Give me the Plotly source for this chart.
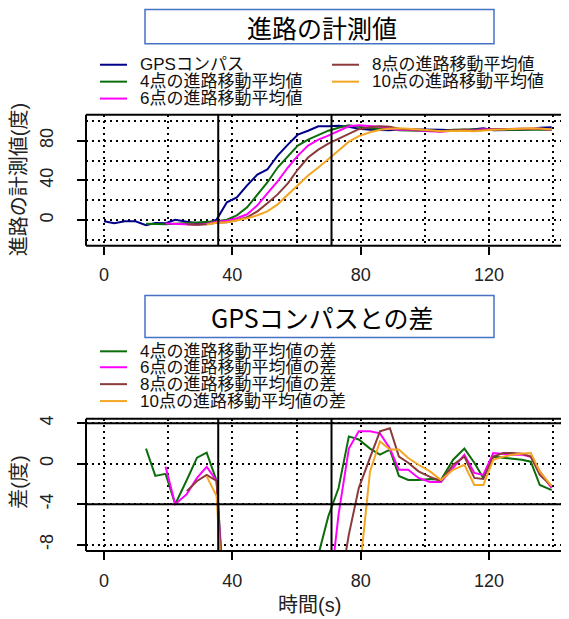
import plotly.graph_objects as go

# The page body adds an 8px margin, so the figure is 8px smaller and all
# pixel positions below are given in window coordinates and shifted.
OFF = 8
W, H = 569 - OFF, 619 - OFF


def px(x):
    return (x - OFF) / W


def py(y):
    return 1 - (y - OFF) / H


# ---------------- data ----------------
time = [0, 3.2, 6.5, 9.8, 13.1, 16.0, 19.2, 22.2, 25.8, 29.0, 32.0, 35.1, 38.3, 41.4, 44.6,
        47.8, 50.9, 54.1, 57.3, 60.4, 63.6, 66.8, 69.9, 73.1, 76.3, 79.4, 82.9, 86.0, 89.1,
        91.9, 94.8, 98.0, 101.6, 105.0, 108.8, 112.3, 115.4, 118.2, 121.3, 124.4, 127.3,
        130.2, 133.0, 135.8, 139.5]

gps = [-1.0, -3.0, -1.0, -1.0, -5.0, -2.8, -3.0, 0.5, -1.4, -3.1, -3.1, 0.7, 18, 23, 35,
       46, 51, 65, 76, 86, 90, 94.5, 94.5, 95, 94, 92, 91, 91, 90.5,
       91.5, 91.5, 91.5, 91, 91, 90.5, 90, 91.5, 92.5, 90.5, 90.5, 91,
       91, 91.5, 93, 93.5]

ma4 = [None] * 4 + [-3.5, -4.0, -4.0, -3.5, -3.0, -2.5, -2.0, -1.0, 0.5, 5, 13, 26, 38, 53,
                    64, 75, 81, 85.5, 90, 93, 95.5, 94, 92.5, 92, 92, 90.5, 90, 90, 90,
                    89.5, 91, 91.5, 91.5, 91, 91, 91, 91.5, 91.5, 91.5, 91, 91]

ma6 = [None] * 6 + [-3.3, -3.5, -4.4, -4.5, -3.4, -1.5, -0.5, 2, 6, 15, 27, 39, 53, 65, 75,
                    81, 85, 89.5, 94.5, 95.5, 94.5, 94, 92, 91, 91, 90, 89.5, 89, 90, 91,
                    90.5, 91.5, 91.5, 91.5, 92, 92, 92, 92, 91]

ma8 = [None] * 8 + [-4.0, -4.5, -4.0, -2.5, -2, 0, 3, 9, 17, 26, 37, 51, 63, 71, 77, 82,
                    87, 91.5, 93.5, 94.5, 94, 92, 91.5, 91, 90, 89.5, 90.5, 91, 90, 91,
                    91.5, 91.5, 92, 92, 92, 92, 91.3]

ma10 = [None] * 10 + [-4.3, -2.5, -2, 0, 2, 5, 9, 16, 26, 36, 45, 53, 61, 70, 79, 84.5,
                      88.5, 91, 92, 92.5, 92, 91.5, 90.5, 89.5, 90, 90, 89.5, 90.5, 91,
                      91.3, 91.8, 92, 92.5, 92.3, 91.3]

d4 = [None] * 4 + [1.5, -1.2, -1.0, -4.0, -1.6, 0.6, 1.1, -1.7, -17.5, -18, -22, -20, -13,
                   -12, -12, -11, -10, -9.0, -5.2, -2.4, 2.7, 2.4, 1.5, 0.9, 1.4, -1.2,
                   -1.6, -1.6, -1.5, -1.6, 0.4, 1.5, 0.1, -1.4, 0.7, 0.6, 0.5, 0.4, 0.2,
                   -2.1, -2.6]

d6 = [None] * 6 + [-0.3, -4.0, -3.0, -1.4, -0.3, -1.7, -18.5, -21, -29, -31, -24, -26, -23,
                   -21, -15, -13.5, -14, -5.0, 1.5, 3.2, 3.2, 3.0, 1.5, -0.6, -0.6, -1.4,
                   -1.8, -1.8, -0.4, 0.9, -0.9, -1.1, 1.05, 0.95, 0.9, 0.9, 0.7, -0.75, -2.4]

d8 = [None] * 8 + [-2.7, -1.7, -1.1, -1.7, -20, -23, -32, -37, -34, -39, -39, -35, -27,
                   -23.5, -17.5, -13, -7.0, -2.4, 0.6, 3.2, 3.5, 0.7, 0.1, -0.75, -1.3,
                   -1.7, -0.1, 0.7, -1.4, -1.5, 0.7, 1.05, 1.05, 1.0, 0.7, -1.1, -2.2]

d10 = [None] * 10 + [-1.25, -3.2, -21, -24, -33, -41, -42, -49, -50, -50, -45, -41.5, -33.5,
                     -25, -15, -11.5, -0.75, 2.2, 1.4, 1.4, 0.56, -0.1, -0.75, -1.6, -0.6,
                     -0.1, -2.1, -2.1, 0.4, 0.7, 0.9, 1.0, 1.05, -0.75, -2.2]

event_times = [35.6, 70.9]
diff_limits = [-4, 4]

x_ticks = [0, 40, 80, 120]
top_y_ticks = [0, 40, 80]
bot_y_ticks = [-8, -4, 0, 4]
bot_y_labels = ["-8", "-4", "0", "4"]

top_names = ["GPSコンパス", "4点の進路移動平均値", "6点の進路移動平均値",
             "8点の進路移動平均値", "10点の進路移動平均値"]
bottom_names = ["4点の進路移動平均値の差", "6点の進路移動平均値の差",
                "8点の進路移動平均値の差", "10点の進路移動平均値の差"]

C_GPS = "#00008B"
C4 = "#0B6E0B"
C6 = "#FF00FF"
C8 = "#8B3A3A"
C10 = "#F4A623"

LAT = "Liberation Sans, Noto Sans CJK JP"
CJK = "Noto Sans CJK JP"

fig = go.Figure()

for ys, col, nm in zip([gps, ma4, ma6, ma8, ma10], [C_GPS, C4, C6, C8, C10], top_names):
    fig.add_trace(go.Scatter(x=time, y=ys, mode="lines", name=nm,
                             line=dict(color=col, width=2),
                             xaxis="x", yaxis="y", showlegend=False))

for ys, col, nm in zip([d4, d6, d8, d10], [C4, C6, C8, C10], bottom_names):
    fig.add_trace(go.Scatter(x=time, y=ys, mode="lines", name=nm,
                             line=dict(color=col, width=2),
                             xaxis="x2", yaxis="y2", showlegend=False))

GRID = dict(showgrid=True, gridcolor="black", griddash="2px,4px", gridwidth=2)
tickfont = dict(family=LAT, size=18, color="#222")

xcommon = dict(domain=[px(86), 1], range=[-5.6, 144.9], tickmode="array",
               tickvals=x_ticks, ticktext=[str(v) for v in x_ticks],
               ticks="outside", ticklen=8, tickwidth=1.5, tickcolor="black",
               zeroline=False, showline=False, tickfont=tickfont,
               ticklabelstandoff=5,
               minor=dict(tickmode="linear", tick0=0, dtick=20, ticks="", **GRID),
               **GRID)

TOP_T, TOP_B = 112.3, 244.0
BOT_T, BOT_B = 417.7, 550.7

fig.update_layout(
    width=W, height=H,
    margin=dict(l=0, r=0, t=0, b=0),
    paper_bgcolor="white", plot_bgcolor="white",
    xaxis=dict(anchor="y", **xcommon),
    xaxis2=dict(anchor="y2", **xcommon),
    yaxis=dict(domain=[py(TOP_B), py(TOP_T)], range=[-25.7, 106], anchor="x",
               tickmode="array", tickvals=top_y_ticks,
               ticktext=[str(v) for v in top_y_ticks],
               ticks="outside", ticklen=8,
               tickwidth=1.5, tickcolor="black", tickangle=-90, zeroline=False,
               tickfont=tickfont, ticklabelstandoff=17,
               minor=dict(tickmode="linear", tick0=0, dtick=20, ticks="", **GRID),
               **GRID),
    yaxis2=dict(domain=[py(BOT_B), py(BOT_T)], range=[-8.62, 4.45], anchor="x2",
                tickmode="array", tickvals=bot_y_ticks, ticktext=bot_y_labels,
                ticks="outside", ticklen=8,
                tickwidth=1.5, tickcolor="black", tickangle=-90, zeroline=False,
                tickfont=tickfont, ticklabelstandoff=17, **GRID),
)

shapes = []
# plot boxes (right side runs past the picture edge)
for t, b in [(TOP_T, TOP_B), (BOT_T, BOT_B)]:
    for (x0, y0, x1, y1) in [(86, t, 86, b), (86, t, 580, t), (86, b, 580, b)]:
        shapes.append(dict(type="line", xref="paper", yref="paper",
                           x0=px(x0), y0=py(y0), x1=px(x1), y1=py(y1),
                           line=dict(color="black", width=2), layer="above"))
# event vertical lines
for xa, ya in [("x", "y"), ("x2", "y2")]:
    for et in event_times:
        shapes.append(dict(type="line", xref=xa, yref=ya + " domain", x0=et, x1=et,
                           y0=0, y1=1, line=dict(color="black", width=2), layer="above"))
# ±4 lines
for lv in diff_limits:
    shapes.append(dict(type="line", xref="x2 domain", yref="y2", x0=0, x1=1, y0=lv, y1=lv,
                       line=dict(color="black", width=2), layer="above"))
# title boxes
for (y0, y1) in [(6.5, 41.0), (294.0, 336.0)]:
    shapes.append(dict(type="rect", xref="paper", yref="paper",
                       x0=px(145), x1=px(494), y0=py(y1), y1=py(y0),
                       line=dict(color="#4472C4", width=1.5), fillcolor="white"))

annotations = []


def ann(text, x, y, size, family, angle=0, xanchor="center", color="black"):
    annotations.append(dict(text=text, x=px(x), y=py(y), xref="paper", yref="paper",
                            xanchor=xanchor, yanchor="middle", showarrow=False,
                            textangle=angle,
                            font=dict(family=family, size=size, color=color)))


ann("進路の計測値", 322, 24, 25, CJK)
ann("GPSコンパスとの差", 322, 316, 25, CJK)

# manual legends
top_leg = [(100, 62, C_GPS, top_names[0]), (100, 79, C4, top_names[1]),
           (100, 96, C6, top_names[2]), (332, 62, C8, top_names[3]),
           (332, 79, C10, top_names[4])]
bot_leg = [(100, 350, C4, bottom_names[0]), (100, 366, C6, bottom_names[1]),
           (100, 383, C8, bottom_names[2]), (100, 400, C10, bottom_names[3])]
for (lx, ly, col, nm) in top_leg + bot_leg:
    shapes.append(dict(type="line", xref="paper", yref="paper", x0=px(lx), x1=px(lx + 27),
                       y0=py(ly), y1=py(ly), line=dict(color=col, width=2)))
    ann(nm, lx + 38, ly, 17, LAT, xanchor="left", color="#111")

# axis titles
ann("進路の計測値(度)", 19, 178, 20, LAT, angle=-90, color="#222")
ann("差(度)", 19, 482, 20, LAT, angle=-90, color="#222")
ann("時間(s)", 309, 605, 20, LAT, color="#222")

fig.update_layout(shapes=shapes, annotations=annotations)
fig.write_html("out.html")
